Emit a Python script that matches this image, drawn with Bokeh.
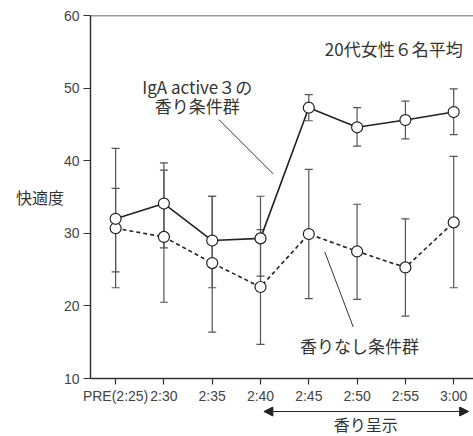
from bokeh.plotting import figure
from bokeh.layouts import column
from bokeh.models import (ColumnDataSource, Whisker, TeeHead, FixedTicker, Label,
                          Arrow, NormalHead, Span, Range1d)
from bokeh.embed import file_html
from bokeh.resources import INLINE

# ---- data ----
categories = ["PRE(2:25)", "2:30", "2:35", "2:40", "2:45", "2:50", "2:55", "3:00"]
iga_mean = [32.0, 34.1, 29.0, 29.3, 47.3, 44.6, 45.6, 46.7]
iga_upper = [41.7, 39.7, 35.1, 35.1, 49.1, 47.3, 48.2, 49.9]
iga_lower = [22.5, 28.0, 22.5, 24.1, 45.5, 42.0, 43.0, 43.6]
none_mean = [30.7, 29.5, 25.9, 22.6, 29.9, 27.5, 25.3, 31.5]
none_upper = [36.2, 38.7, 35.1, 30.5, 38.8, 34.0, 32.0, 40.6]
none_lower = [24.7, 20.5, 16.4, 14.7, 21.0, 20.9, 18.6, 22.5]
y_ticks = [10, 20, 30, 40, 50, 60]

xs = list(range(len(categories)))
JP = "Noto Sans CJK JP"
NUM = "Liberation Sans"
TXT = "#333333"
W = 473

p = figure(width=W, height=406, output_backend="svg", toolbar_location=None,
           x_range=Range1d(-0.52, 7.41), y_range=Range1d(10, 60),
           min_border_left=90, min_border_right=0, min_border_top=15, min_border_bottom=28)
p.outline_line_color = None
p.grid.visible = False

for ax in (p.xaxis[0], p.yaxis[0]):
    ax.axis_line_color = "#333333"
    ax.axis_line_width = 1.5
    ax.major_tick_line_color = "#333333"
    ax.major_tick_line_width = 1.2
    ax.major_tick_out = 7
    ax.major_tick_in = 0
    ax.minor_tick_line_color = None
    ax.major_label_text_font = NUM
    ax.major_label_text_font_size = "14px"
    ax.major_label_text_color = "#444444"

p.xaxis.ticker = FixedTicker(ticks=xs)
p.xaxis.major_label_overrides = {i: c for i, c in enumerate(categories)}
p.xaxis.major_label_standoff = 3
p.xaxis.major_tick_out = 6
p.yaxis.ticker = FixedTicker(ticks=y_ticks)
p.yaxis.major_label_standoff = 4
p.yaxis.axis_label = "快適度"
p.yaxis.axis_label_orientation = "horizontal"
p.yaxis.axis_label_standoff = -3
p.yaxis.axis_label_text_font = JP
p.yaxis.axis_label_text_font_size = "16px"
p.yaxis.axis_label_text_font_style = "normal"
p.yaxis.axis_label_text_color = TXT

p.add_layout(Span(location=60, dimension="width", line_color="#333333", line_width=1.5))

# error bars
for up, lo in ((none_upper, none_lower), (iga_upper, iga_lower)):
    src = ColumnDataSource(dict(x=xs, upper=up, lower=lo))
    w = Whisker(base="x", upper="upper", lower="lower", source=src,
                line_color="#555555", line_width=1.2,
                upper_head=TeeHead(size=8, line_color="#555555", line_width=1.2),
                lower_head=TeeHead(size=8, line_color="#555555", line_width=1.2))
    p.add_layout(w)

p.line(xs, none_mean, line_color="#222222", line_width=1.6, line_dash="4 3")
p.line(xs, iga_mean, line_color="#222222", line_width=1.6)
p.scatter(xs, none_mean, size=11, fill_color="white", line_color="#222222", line_width=1.2)
p.scatter(xs, iga_mean, size=11, fill_color="white", line_color="#222222", line_width=1.2)

# leader lines
p.segment(x0=[2.14, 4.33], y0=[45.65, 27.44], x1=[3.26, 4.92], y1=[38.2, 17.1],
          line_color="#333333", line_width=1)

def lab(fig, x, y, t, align="center", size="17px", baseline="middle"):
    fig.add_layout(Label(x=x, y=y, text=t, text_font=JP, text_font_size=size,
                         text_color=TXT, text_align=align, text_baseline=baseline))

lab(p, 5.76, 55.4, "20代女性６名平均")
lab(p, 1.69, 50.2, "IgA active３の")
lab(p, 1.69, 47.6, "香り条件群")
lab(p, 5.05, 14.6, "香りなし条件群")

# strip below the axis: aroma presentation period
p2 = figure(width=W, height=30, output_backend="svg", toolbar_location=None,
            x_range=p.x_range, y_range=Range1d(0, 30),
            min_border_left=90, min_border_right=0, min_border_top=0, min_border_bottom=0)
p2.axis.visible = False
p2.grid.visible = False
p2.outline_line_color = None
p2.add_layout(Arrow(x_start=3.07, y_start=25, x_end=7.31, y_end=25,
                    line_color="#222222", line_width=1.2,
                    start=NormalHead(size=9, fill_color="#222222", line_color="#222222"),
                    end=NormalHead(size=9, fill_color="#222222", line_color="#222222")))
lab(p2, 5.18, 1, "香り呈示", size="16px", baseline="bottom")

open("out.html", "w").write(file_html(column(p, p2), INLINE))
